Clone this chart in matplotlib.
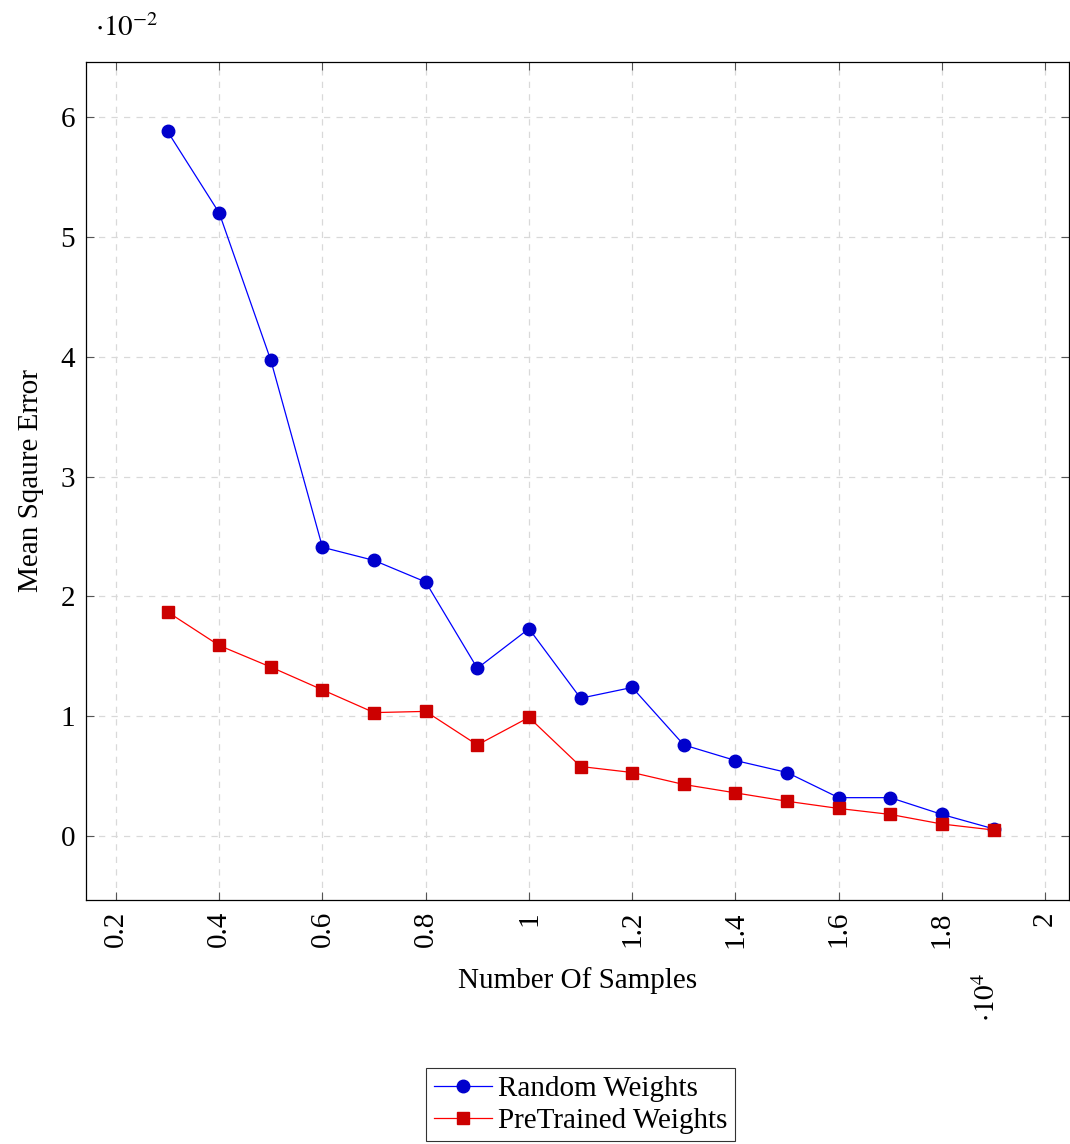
import matplotlib
matplotlib.use("Agg")
import matplotlib.pyplot as plt
from matplotlib.ticker import FuncFormatter, MultipleLocator

plt.rcParams['font.family'] = ['Liberation Serif', 'DejaVu Serif']
plt.rcParams['mathtext.fontset'] = 'stix'

# datos (MSE en unidades de 1e-2)
samples = [3000, 4000, 5000, 6000, 7000, 8000, 9000, 10000, 11000,
           12000, 13000, 14000, 15000, 16000, 17000, 18000, 19000]
random_mse = [5.88, 5.20, 3.97, 2.41, 2.30, 2.12, 1.40, 1.73, 1.15,
              1.24, 0.76, 0.63, 0.53, 0.32, 0.32, 0.18, 0.06]
pretrained_mse = [1.87, 1.59, 1.41, 1.22, 1.03, 1.04, 0.76, 0.99, 0.58,
                  0.53, 0.43, 0.36, 0.29, 0.23, 0.18, 0.10, 0.05]

FS = 21

fig = plt.figure(figsize=(10.7, 11.44), dpi=100)
ax = fig.add_axes([0.0804, 0.2133, 0.9186, 0.7325])

ax.plot(samples, random_mse, color='#0000ff', lw=0.9, marker='o',
        markersize=9, markerfacecolor='#0000cc', markeredgecolor='#0000cc',
        label='Random Weights')
ax.plot(samples, pretrained_mse, color='#ff0000', lw=0.9, marker='s',
        markersize=8.5, markerfacecolor='#cc0000', markeredgecolor='#cc0000',
        label='PreTrained Weights')

ax.set_xlim(1420, 20460)
ax.set_ylim(-0.534, 6.46)
ax.xaxis.set_major_locator(MultipleLocator(2000))
ax.yaxis.set_major_locator(MultipleLocator(1))

def fmt_x(v, pos):
    s = f"{v / 1e4:.1f}"
    return s[:-2] if s.endswith(".0") else s

ax.xaxis.set_major_formatter(FuncFormatter(fmt_x))
ax.yaxis.set_major_formatter(FuncFormatter(lambda v, p: f"{v:.0f}"))

ax.grid(True, color='#d9d9d9', linestyle=(0, (5, 5)), lw=0.9)
ax.set_axisbelow(True)
ax.tick_params(direction='in', top=True, right=True, length=6,
               width=0.8, color='#555555', labelsize=FS, pad=8)
for lab in ax.get_xticklabels():
    lab.set_rotation(90)
for sp in ax.spines.values():
    sp.set_linewidth(0.9)

ax.set_xlabel("Number Of Samples", fontsize=FS, labelpad=14)
ax.set_ylabel("Mean Sqaure Error", fontsize=FS, labelpad=12)

fig.text(0.0888, 0.975, r"$\cdot 10^{-2}$", fontsize=FS, va='center')
fig.text(0.923, 0.128, r"$\cdot 10^{4}$", fontsize=FS, rotation=90,
         ha='center', va='center')

leg = fig.legend(loc='upper center', bbox_to_anchor=(0.5425, 0.0664),
                 fontsize=FS, frameon=True, fancybox=False,
                 edgecolor='black', borderpad=0.25, handlelength=2.0,
                 labelspacing=0.2, handletextpad=0.2, borderaxespad=0)
leg.get_frame().set_linewidth(0.8)

fig.savefig("out.png", dpi=100)
